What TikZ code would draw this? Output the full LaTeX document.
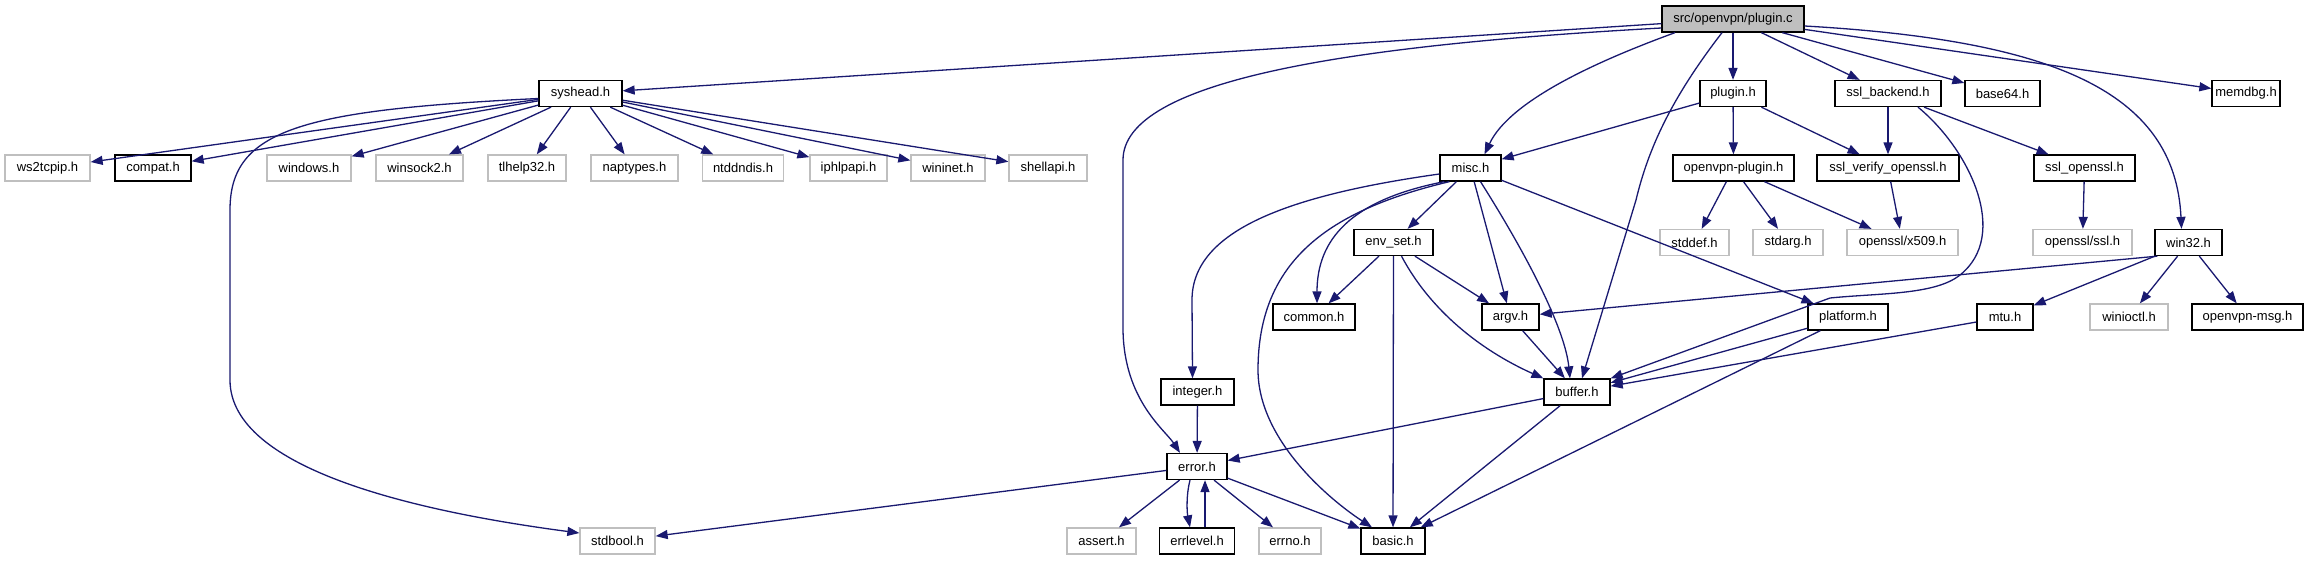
\documentclass[tikz,border=0pt]{standalone}
\usepackage{fontspec}
\setmainfont{Liberation Sans}
\usetikzlibrary{arrows.meta}
\definecolor{edgeblue}{HTML}{191970}
\definecolor{lightgr}{HTML}{BFBFBF}
\begin{document}
\begin{tikzpicture}[x=1pt,y=-1pt,
  nb/.style={draw=black, line width=1.3pt, fill=white, minimum height=26pt, inner sep=0pt, font=\fontsize{13}{15}\selectfont},
  ng/.style={nb, draw=lightgr},
  nroot/.style={nb, fill=lightgr},
  edg/.style={draw=edgeblue, line width=1.3pt, -{Triangle[length=12pt,width=9pt]}}]
\fill[white] (0,0) rectangle (2309,560);
\useasboundingbox (0,0) rectangle (2309,560);
% row 0
\node[nroot, minimum width=142pt] (pluginc) at (1733,19) {src/openvpn/plugin.c};
% row 1
\node[nb, minimum width=83pt] (syshead) at (580.5,93.5) {syshead.h};
\node[nb, minimum width=66pt] (pluginh) at (1733,93.5) {plugin.h};
\node[nb, minimum width=106pt] (sslbackend) at (1888,93.5) {ssl\_backend.h};
\node[nb, minimum width=75pt] (base64) at (2002.5,93.5) {base64.h};
\node[nb, minimum width=68pt] (memdbg) at (2246,93.5) {memdbg.h};
% row 2
\node[ng, minimum width=85pt] (ws2tcpip) at (47.5,168) {ws2tcpip.h};
\node[nb, minimum width=76pt] (compat) at (153,168) {compat.h};
\node[ng, minimum width=84pt] (windows) at (309,168) {windows.h};
\node[ng, minimum width=87pt] (winsock2) at (419.5,168) {winsock2.h};
\node[ng, minimum width=78pt] (tlhelp32) at (527,168) {tlhelp32.h};
\node[ng, minimum width=87pt] (naptypes) at (634.5,168) {naptypes.h};
\node[ng, minimum width=81pt] (ntddndis) at (743,168) {ntddndis.h};
\node[ng, minimum width=77pt] (iphlpapi) at (848.5,168) {iphlpapi.h};
\node[ng, minimum width=74pt] (wininet) at (948,168) {wininet.h};
\node[ng, minimum width=78pt] (shellapi) at (1048,168) {shellapi.h};
\node[nb, minimum width=61pt] (misc) at (1470.5,168) {misc.h};
\node[nb, minimum width=121pt] (openvpnplugin) at (1733.5,168) {openvpn-plugin.h};
\node[nb, minimum width=142pt] (sslverify) at (1888,168) {ssl\_verify\_openssl.h};
\node[nb, minimum width=101pt] (sslopenssl) at (2084.5,168) {ssl\_openssl.h};
% row 3
\node[nb, minimum width=79pt] (envset) at (1393.5,242.5) {env\_set.h};
\node[ng, minimum width=69pt] (stddef) at (1694.5,242.5) {stddef.h};
\node[ng, minimum width=70pt] (stdarg) at (1788,242.5) {stdarg.h};
\node[ng, minimum width=111pt] (x509) at (1902.5,242.5) {openssl/x509.h};
\node[ng, minimum width=99pt] (opensslssl) at (2082.5,242.5) {openssl/ssl.h};
\node[nb, minimum width=67pt] (win32) at (2188.5,242.5) {win32.h};
% row 4
\node[nb, minimum width=82pt] (common) at (1314,317) {common.h};
\node[nb, minimum width=57pt] (argv) at (1510.5,317) {argv.h};
\node[nb, minimum width=80pt] (platform) at (1848,317) {platform.h};
\node[nb, minimum width=56pt] (mtu) at (2005,317) {mtu.h};
\node[ng, minimum width=78pt] (winioctl) at (2129,317) {winioctl.h};
\node[nb, minimum width=111pt] (openvpnmsg) at (2247.5,317) {openvpn-msg.h};
% row 5
\node[nb, minimum width=73pt] (integer) at (1197.5,392) {integer.h};
\node[nb, minimum width=66pt] (buffer) at (1577,392) {buffer.h};
% row 6
\node[nb, minimum width=60pt] (error) at (1197,466.5) {error.h};
% row 7
\node[ng, minimum width=75pt] (stdbool) at (617.5,541) {stdbool.h};
\node[ng, minimum width=69pt] (assert) at (1101.5,541) {assert.h};
\node[nb, minimum width=75pt] (errlevel) at (1197,541) {errlevel.h};
\node[ng, minimum width=62pt] (errno) at (1290,541) {errno.h};
\node[nb, minimum width=64pt] (basic) at (1393,541) {basic.h};

% plugin.c edges
\draw[edg] (pluginc) -- (syshead);
\draw[edg] ([yshift=-9pt]pluginc.west) .. controls (1350,45) and (1123,80) .. (1123,160) -- (1123,330) .. controls (1124,400) and (1165,430) .. ([xshift=-17pt]error.north);
\draw[edg] ([xshift=-58pt]pluginc.south) .. controls (1600,60) and (1510,100) .. ([xshift=14pt]misc.north);
\draw[edg] ([xshift=-11pt]pluginc.south) .. controls (1670,100) and (1648,150) .. (1636,200) -- ([xshift=5pt]buffer.north);
\draw[edg] (pluginc) -- (pluginh);
\draw[edg] (pluginc) -- (sslbackend);
\draw[edg] (pluginc) -- (base64);
\draw[edg] (pluginc) -- (memdbg);
\draw[edg] ([yshift=-7pt]pluginc.east) .. controls (2050,40) and (2175,90) .. ([xshift=-7pt]win32.north);

% syshead edges
\foreach \t in {ws2tcpip,compat,windows,winsock2,tlhelp32,naptypes,ntddndis,iphlpapi,wininet,shellapi}
  \draw[edg] (syshead) -- (\t);
\draw[edg] ([yshift=-5pt]syshead.west) .. controls (300,110) and (230,130) .. (230,210) -- (230,380) .. controls (230,470) and (420,512) .. ([yshift=8pt]stdbool.west);

% plugin.h edges
\draw[edg] (pluginh) -- (misc);
\draw[edg] (pluginh) -- (openvpnplugin);
\draw[edg] (pluginh) -- (sslverify);

% ssl_backend edges
\draw[edg] (sslbackend) -- (sslverify);
\draw[edg] (sslbackend) -- (sslopenssl);
\draw[edg] ([xshift=30pt]sslbackend.south) .. controls (1970,150) and (2010,235) .. (1960,275) .. controls (1935,295) and (1880,293) .. (1830,298) -- (buffer.north east);

% openvpn-plugin, ssl_verify, ssl_openssl
\draw[edg] (openvpnplugin) -- (stddef);
\draw[edg] (openvpnplugin) -- (stdarg);
\draw[edg] (openvpnplugin) -- (x509);
\draw[edg] (sslverify) -- (x509);
\draw[edg] (sslopenssl) -- (opensslssl);

% misc edges
\draw[edg] ([yshift=-6pt]misc.west) .. controls (1290,195) and (1192,230) .. (1192,300) -- ([xshift=-5pt]integer.north);
\draw[edg] ([xshift=5pt]misc.south west) .. controls (1350,200) and (1317,240) .. ([xshift=3pt]common.north);
\draw[edg] ([xshift=10pt]misc.south west) .. controls (1330,210) and (1258,260) .. (1258,370) .. controls (1258,440) and (1330,500) .. ([xshift=-21pt]basic.north);
\draw[edg] (misc) -- (envset);
\draw[edg] (misc) -- (argv);
\draw[edg] ([xshift=10pt]misc.south) .. controls (1530,260) and (1565,330) .. ([xshift=-7pt]buffer.north);
\draw[edg] (misc) -- (platform);

% win32 edges
\draw[edg] ([xshift=3pt]win32.south west) -- (argv);
\draw[edg] (win32) -- (mtu);
\draw[edg] (win32) -- (winioctl);
\draw[edg] (win32) -- (openvpnmsg);

% env_set edges
\draw[edg] (envset) -- (common);
\draw[edg] (envset) -- (argv);
\draw[edg] ([xshift=8pt]envset.south) .. controls (1430,310) and (1480,350) .. (buffer.north west);
\draw[edg] (envset) -- (basic);

% others
\draw[edg] (argv) -- (buffer);
\draw[edg] (platform) -- (buffer);
\draw[edg] (platform) -- (basic);
\draw[edg] (mtu) -- (buffer);
\draw[edg] (buffer) -- (error);
\draw[edg] (buffer) -- (basic);
\draw[edg] (integer) -- (error);

% error edges
\draw[edg] (error) -- (stdbool);
\draw[edg] (error) -- (assert);
\draw[edg] ([xshift=-7pt]error.south) .. controls +(-4,15) and +(-3,-15) .. ([xshift=-7pt]errlevel.north);
\draw[edg] ([xshift=8pt]errlevel.north) -- ([xshift=8pt]error.south);
\draw[edg] (error) -- (errno);
\draw[edg] (error) -- (basic);
\end{tikzpicture}
\end{document}
